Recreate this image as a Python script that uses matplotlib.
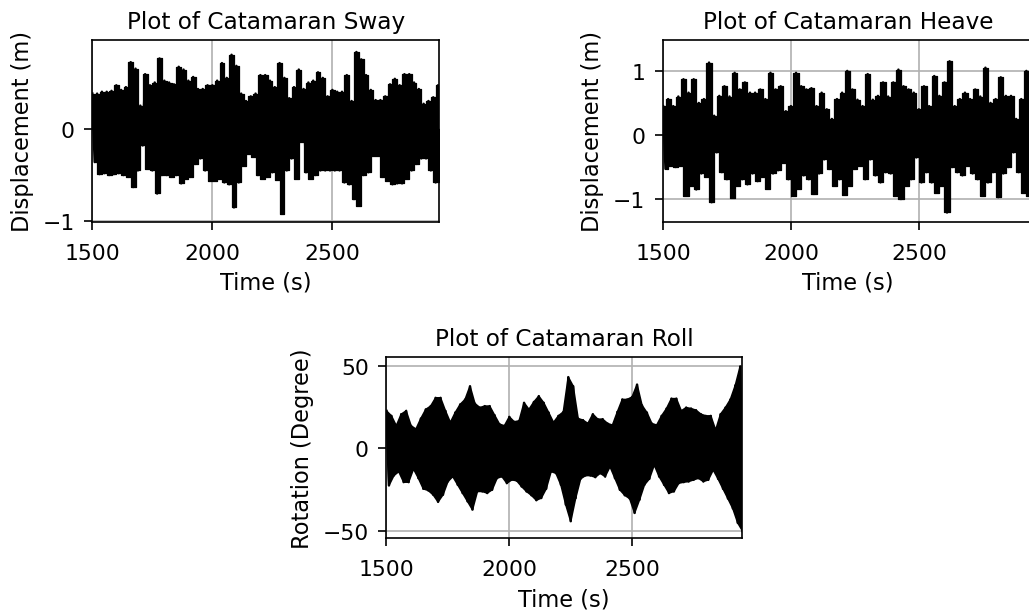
import numpy as np
import matplotlib
matplotlib.use("Agg")
import matplotlib.pyplot as plt

# Time grid of the read-off peaks (upper peaks, lower peaks offset by 10 s)
hi_time = np.arange(1500, 2941, 20)
lo_time = hi_time + 10

# Catamaran sway (m): upper and lower peaks
sway_hi = [0.38, 0.38, 0.40, 0.40, 0.41, 0.47, 0.42, 0.45, 0.72, 0.65,
           0.25, 0.59, 0.47, 0.50, 0.76, 0.52, 0.50, 0.48, 0.67, 0.64,
           0.52, 0.56, 0.43, 0.43, 0.47, 0.47, 0.52, 0.71, 0.55, 0.80,
           0.68, 0.38, 0.30, 0.35, 0.38, 0.58, 0.58, 0.52, 0.45, 0.71,
           0.55, 0.33, 0.45, 0.64, 0.43, 0.50, 0.52, 0.61, 0.55, 0.35,
           0.42, 0.40, 0.40, 0.58, 0.30, 0.83, 0.75, 0.58, 0.42, 0.31,
           0.31, 0.35, 0.48, 0.54, 0.47, 0.59, 0.59, 0.50, 0.43, 0.27,
           0.30, 0.34, 0.47]
sway_lo = [-0.36, -0.49, -0.48, -0.50, -0.49, -0.48, -0.50, -0.52, -0.63, -0.45,
           -0.18, -0.43, -0.45, -0.70, -0.50, -0.50, -0.52, -0.50, -0.59, -0.54,
           -0.52, -0.38, -0.32, -0.45, -0.56, -0.56, -0.54, -0.58, -0.60, -0.85,
           -0.58, -0.40, -0.27, -0.30, -0.50, -0.54, -0.52, -0.47, -0.55, -0.92,
           -0.45, -0.32, -0.54, -0.14, -0.47, -0.54, -0.50, -0.45, -0.45, -0.45,
           -0.45, -0.45, -0.58, -0.60, -0.76, -0.83, -0.50, -0.47, -0.29, -0.29,
           -0.52, -0.56, -0.60, -0.59, -0.59, -0.54, -0.45, -0.38, -0.32, -0.32,
           -0.45, -0.58, -0.58]

# Catamaran heave (m)
heave_hi = [0.45, 0.56, 0.45, 0.60, 0.87, 0.66, 0.87, 0.50, 0.56, 1.13,
            0.30, 0.61, 0.76, 0.60, 0.97, 0.71, 0.82, 0.66, 0.66, 0.71,
            0.56, 0.97, 0.71, 0.76, 0.37, 0.45, 0.97, 0.76, 0.71, 0.73,
            0.45, 0.66, 0.40, 0.25, 0.56, 0.66, 1.00, 0.71, 0.55, 0.45,
            0.95, 0.55, 0.61, 0.82, 0.60, 0.82, 1.02, 0.76, 0.71, 0.66,
            0.40, 0.76, 0.45, 0.92, 0.61, 0.82, 1.15, 0.45, 0.56, 0.66,
            0.56, 0.71, 0.60, 1.05, 0.50, 0.56, 0.90, 0.61, 0.61, 0.25,
            0.56, 1.00, 0.80]
heave_lo = [-0.53, -0.48, -0.50, -0.48, -0.95, -0.79, -0.85, -0.60, -0.65, -1.05,
            -0.27, -0.58, -0.69, -0.98, -0.79, -0.69, -0.77, -0.60, -0.72, -0.65,
            -0.84, -0.60, -0.55, -0.43, -0.69, -0.95, -0.84, -0.63, -0.69, -0.92,
            -0.60, -0.38, -0.53, -0.79, -0.69, -0.93, -0.79, -0.53, -0.48, -0.69,
            -0.38, -0.63, -0.74, -0.58, -0.60, -0.95, -1.00, -0.79, -0.69, -0.35,
            -0.74, -0.58, -0.74, -0.90, -0.79, -1.21, -0.50, -0.58, -0.63, -0.48,
            -0.60, -0.69, -0.95, -0.74, -0.58, -0.97, -0.60, -0.50, -0.27, -0.58,
            -0.90, -0.95, -0.90]

# Catamaran roll (degree)
roll_hi = [22.6, 19.6, 13.6, 20.6, 22.6, 13.6, 11.6, 18.0, 23.5, 25.5,
           30.5, 30.5, 22.6, 15.6, 21.6, 26.5, 29.5, 37.5, 27.0, 24.6,
           25.5, 25.5, 20.0, 14.6, 13.6, 19.0, 16.0, 16.6, 27.5, 23.5,
           28.0, 31.5, 27.5, 21.6, 15.6, 19.6, 22.0, 43.0, 37.5, 18.0,
           17.0, 15.0, 20.6, 17.6, 17.6, 15.0, 14.0, 22.0, 29.5, 29.5,
           31.0, 38.5, 26.0, 21.6, 15.0, 14.0, 19.6, 24.0, 30.0, 30.0,
           22.6, 24.6, 24.0, 23.0, 20.6, 19.6, 19.6, 11.0, 20.6, 24.6,
           29.5, 38.0, 49.5]
roll_lo = [-22.4, -16.4, -14.0, -20.4, -20.4, -12.4, -18.0, -24.4, -25.4, -28.0,
           -32.3, -28.0, -20.0, -17.0, -22.0, -27.0, -32.0, -37.0, -26.0, -26.0,
           -27.0, -25.0, -18.0, -17.0, -21.0, -19.0, -19.5, -23.0, -26.0, -28.3,
           -31.3, -30.0, -24.4, -14.0, -15.0, -22.0, -34.0, -44.0, -30.0, -18.4,
           -16.4, -16.4, -17.4, -15.0, -17.0, -11.0, -18.0, -25.0, -28.3, -30.3,
           -39.0, -31.0, -22.0, -18.4, -10.0, -17.0, -22.0, -27.0, -26.0, -21.0,
           -20.4, -20.0, -19.0, -18.0, -20.0, -19.0, -13.0, -18.4, -24.4, -30.3,
           -36.3, -45.0, -50.0]

x_ticks = [1500, 2000, 2500]


def series(hi, lo):
    t = np.empty(2 * len(hi_time))
    y = np.empty(2 * len(hi_time))
    t[0::2] = hi_time
    t[1::2] = lo_time
    y[0::2] = hi
    y[1::2] = lo
    return t, y


plt.rcParams['font.family'] = ['DejaVu Sans']
plt.rcParams['font.size'] = 10.5
plt.rcParams['axes.labelsize'] = 10.8
plt.rcParams['xtick.labelsize'] = 10.5
plt.rcParams['ytick.labelsize'] = 10.5
plt.rcParams['xtick.major.size'] = 4
plt.rcParams['ytick.major.size'] = 4
plt.rcParams['xtick.major.pad'] = 6
plt.rcParams['ytick.major.pad'] = 4.5

fig = plt.figure(figsize=(6.86, 4.0933), dpi=150)

ax1 = fig.add_axes([0.0897, 0.6373, 0.3374, 0.2967])
ax2 = fig.add_axes([0.6443, 0.6373, 0.3596, 0.2967])
ax3 = fig.add_axes([0.3756, 0.1217, 0.3452, 0.2948])

panels = [
    (ax1, sway_hi, sway_lo, 'Plot of Catamaran Sway', 'Displacement (m)', (-1.005, 0.965), [-1, 0], 'mid'),
    (ax2, heave_hi, heave_lo, 'Plot of Catamaran Heave', 'Displacement (m)', (-1.354, 1.49), [-1, 0, 1], 'mid'),
    (ax3, roll_hi, roll_lo, 'Plot of Catamaran Roll', 'Rotation (Degree)', (-54.3, 55.0), [-50, 0, 50], None),
]

for ax, hi, lo, title, ylabel, ylim, yticks, step in panels:
    t, y = series(hi, lo)
    if step:
        ax.fill_between(hi_time, 0, hi, step=step, color='black', lw=0.6)
        ax.fill_between(lo_time, lo, 0, step=step, color='black', lw=0.6)
    else:
        ax.fill(np.r_[hi_time, lo_time[::-1]], np.r_[hi, lo[::-1]],
                color='black', lw=0.8)
    ax.plot(t, y, color='black', lw=1.2)
    ax.set_xlim(1500, 2946)
    ax.set_ylim(*ylim)
    ax.set_xticks(x_ticks)
    ax.set_yticks(yticks)
    ax.grid(True, color='#b0b0b0', lw=0.8)
    ax.set_axisbelow(True)
    ax.set_title(title, fontsize=11.1, pad=5.7)
    ax.set_xlabel('Time (s)')
    ax.set_ylabel(ylabel, labelpad=4.2)

fig.savefig('out.png', dpi=150)
